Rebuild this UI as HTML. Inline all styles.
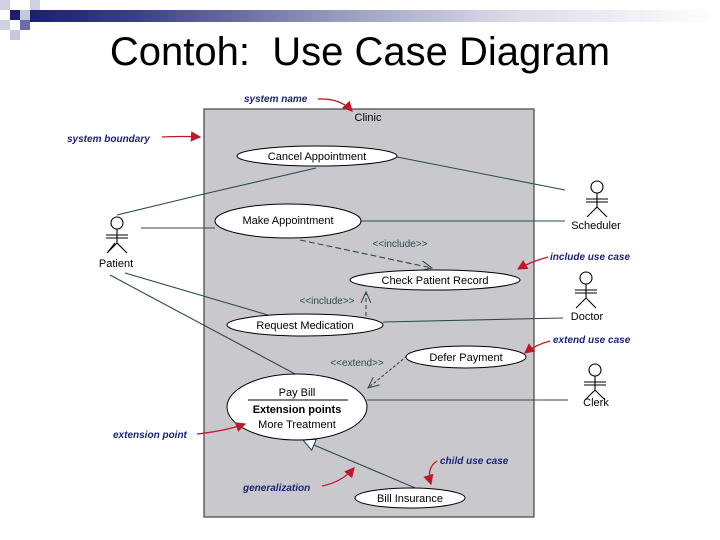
<!DOCTYPE html>
<html><head><meta charset="utf-8"><style>
body{margin:0;width:720px;height:540px;background:#fff;overflow:hidden;position:relative;font-family:"Liberation Sans",sans-serif}
.t{position:absolute;left:0;width:720px;top:30px;text-align:center;font-size:40px;color:#000;padding-right:2px}
</style></head><body>
<div style="position:absolute;left:30px;top:10px;width:690px;height:12px;background:linear-gradient(90deg,#1b1f6e 0%,#3a3f86 15%,#9a9cbf 45%,#dcdce8 70%,#fff 100%)"></div>
<div style="position:absolute;left:0;top:0;width:10px;height:10px;background:#d0d0e0"></div>
<div style="position:absolute;left:30px;top:0;width:10px;height:10px;background:#d0d0e0"></div>
<div style="position:absolute;left:10px;top:10px;width:10px;height:10px;background:#1b1f6e"></div>
<div style="position:absolute;left:20px;top:10px;width:10px;height:10px;background:#c8c8dc"></div>
<div style="position:absolute;left:0;top:20px;width:10px;height:10px;background:#d0d0e0"></div>
<div style="position:absolute;left:20px;top:20px;width:10px;height:10px;background:#6a6ea8"></div>
<div style="position:absolute;left:10px;top:30px;width:10px;height:10px;background:#c8c8dc"></div>
<div class="t">Contoh:&nbsp; Use Case Diagram</div>
<svg width="720" height="540" style="position:absolute;left:0;top:0" font-family="Liberation Sans, sans-serif">
<defs>
<marker id="r" markerWidth="8" markerHeight="8" refX="7" refY="4" orient="auto"><path d="M0,0 L8,4 L0,8 Z" fill="#c0182a"/></marker>
<marker id="o" markerWidth="12" markerHeight="12" refX="11" refY="6" orient="auto" markerUnits="userSpaceOnUse"><path d="M0,1 L11,6 L0,11" fill="none" stroke="#2a4a50" stroke-width="1"/></marker>
</defs>
<rect x="204" y="109" width="330" height="408" fill="#c9c9cd" stroke="#444" stroke-width="1.2"/>
<text x="368" y="121" font-size="11" text-anchor="middle">Clinic</text>
<g stroke="#2a4a50" stroke-width="1.1" fill="none">
<path d="M117,215 L204,194 L316,168"/>
<path d="M141,228 L215,228"/>
<path d="M125,273 L295,323"/>
<path d="M110,275 L297,375"/>
<path d="M397,157 L565,190"/>
<path d="M361,221 L565,221"/>
<path d="M383,322 L563,318"/>
<path d="M367,400 L568,400"/>
<path d="M300,240 L432,268" stroke-dasharray="6,3" marker-end="url(#o)"/>
<path d="M366,316 L366,292" stroke-dasharray="4,3" marker-end="url(#o)"/>
<path d="M407,356 L368,388" stroke-dasharray="3,2" marker-end="url(#o)"/>
<path d="M420,490 L314,445"/>
<path d="M303,440 L311.7,450.2 L316.3,439.2 Z" fill="#fff"/>
</g>
<g fill="#fff" stroke="#000" stroke-width="1">
<ellipse cx="317" cy="156" rx="80" ry="10"/>
<ellipse cx="288" cy="221" rx="73" ry="17"/>
<ellipse cx="435" cy="280" rx="85" ry="10"/>
<ellipse cx="305" cy="325" rx="78" ry="11"/>
<ellipse cx="466" cy="357" rx="60" ry="11"/>
<ellipse cx="297" cy="407" rx="70" ry="33"/>
<ellipse cx="410" cy="498" rx="55" ry="10"/>
</g>
<line x1="248" y1="400" x2="348" y2="400" stroke="#000"/>
<g font-size="11" text-anchor="middle" fill="#000">
<text x="317" y="160">Cancel Appointment</text>
<text x="288" y="224">Make Appointment</text>
<text x="435" y="284">Check Patient Record</text>
<text x="305" y="329">Request Medication</text>
<text x="466" y="361">Defer Payment</text>
<text x="297" y="396">Pay Bill</text>
<text x="297" y="413" font-weight="bold">Extension points</text>
<text x="297" y="428">More Treatment</text>
<text x="410" y="502">Bill Insurance</text>
</g>
<g font-size="10" fill="#2a4a50" text-anchor="middle">
<text x="400" y="247">&lt;&lt;include&gt;&gt;</text>
<text x="327" y="304">&lt;&lt;include&gt;&gt;</text>
<text x="357" y="366">&lt;&lt;extend&gt;&gt;</text>
</g>
<g stroke="#000" stroke-width="1.1" fill="none">
<g transform="translate(117,223)"><circle cx="0" cy="0" r="6"/><path d="M0,6 V20 M-11,12 H11 M-11,15 H11 M0,20 L-10,30 M0,20 L10,30 M-2,20 L-9,29"/></g>
<g transform="translate(597,187)"><circle cx="0" cy="0" r="6"/><path d="M0,6 V20 M-11,12 H11 M-11,15 H11 M0,20 L-10,30 M0,20 L10,30"/></g>
<g transform="translate(586,278)"><circle cx="0" cy="0" r="6"/><path d="M0,6 V20 M-11,12 H11 M-11,15 H11 M0,20 L-10,30 M0,20 L10,30"/></g>
<g transform="translate(595,370)"><circle cx="0" cy="0" r="6"/><path d="M0,6 V20 M-11,12 H11 M-11,15 H11 M0,20 L-10,30 M0,20 L10,30"/></g>
</g>
<g font-size="11" text-anchor="middle">
<text x="116" y="267">Patient</text>
<text x="596" y="229">Scheduler</text>
<text x="587" y="320">Doctor</text>
<text x="596" y="406">Clerk</text>
</g>
<g font-size="10" font-weight="bold" font-style="italic" fill="#1b1f7a">
<text x="244" y="102">system name</text>
<text x="67" y="142">system boundary</text>
<text x="550" y="260">include use case</text>
<text x="553" y="343">extend use case</text>
<text x="113" y="438">extension point</text>
<text x="440" y="464">child use case</text>
<text x="243" y="491">generalization</text>
</g>
<g stroke="#c0182a" stroke-width="1.3" fill="none" marker-end="url(#r)">
<path d="M318,99 Q340,98 352,111"/>
<path d="M162,137 Q185,136 200,137"/>
<path d="M548,257 Q530,262 518,269"/>
<path d="M550,341 Q535,345 525,353"/>
<path d="M197,434 Q225,431 245,424"/>
<path d="M437,461 Q426,468 431,484"/>
<path d="M322,486 Q342,482 354,468"/>
</g>
</svg>
</body></html>
